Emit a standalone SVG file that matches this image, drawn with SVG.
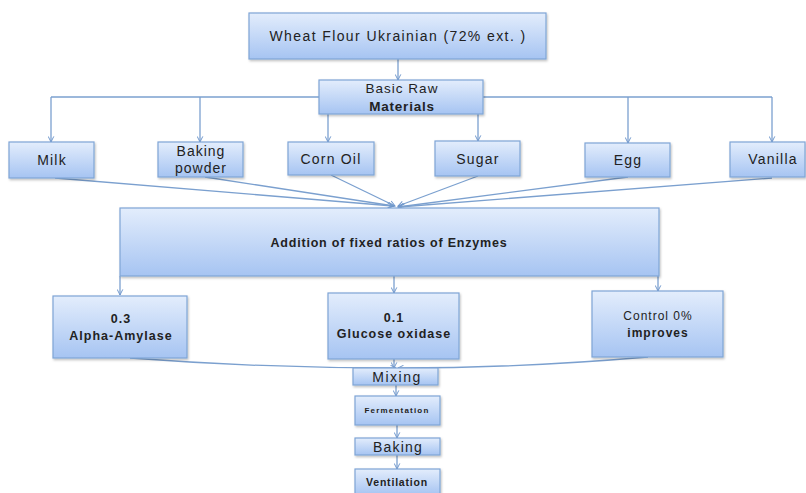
<svg xmlns="http://www.w3.org/2000/svg" width="806" height="493" viewBox="0 0 806 493">
<defs>
<linearGradient id="g" x1="0" y1="0" x2="0" y2="1">
<stop offset="0" stop-color="#e3edfc"/>
<stop offset="1" stop-color="#a6c4f2"/>
</linearGradient>
<filter id="sh" x="-10%" y="-10%" width="120%" height="130%">
<feDropShadow dx="1" dy="1.5" stdDeviation="1" flood-color="#000" flood-opacity="0.25"/>
</filter>
<marker id="ar" viewBox="0 0 10 10" refX="9" refY="5" markerWidth="7" markerHeight="7" orient="auto" markerUnits="userSpaceOnUse">
<path d="M1,1 L9,5 L1,9" fill="none" stroke="#6f97cc" stroke-width="1.4"/>
</marker>
</defs>
<style>
.b{fill:url(#g);stroke:#7fa5d6;stroke-width:1.2;filter:url(#sh)}
.t{font-family:"Liberation Sans",Arial,sans-serif;fill:#222;text-anchor:middle}
.bd{font-weight:bold}
.c{fill:none;stroke:#7ba0cf;stroke-width:1.3}
.a{marker-end:url(#ar)}
</style>
<rect width="806" height="493" fill="#fff"/>
<g id="connectors">
<path class="c a" d="M398,59 V80"/>
<path class="c" d="M51,97 H772"/>
<path class="c a" d="M51,97 V142"/>
<path class="c a" d="M200,97 V142"/>
<path class="c a" d="M328,113 V142"/>
<path class="c a" d="M478,113 V141"/>
<path class="c a" d="M628,97 V143"/>
<path class="c a" d="M772,97 V142"/>
<path class="c a" d="M55,178 L393,206"/>
<path class="c a" d="M205,177 L394,206"/>
<path class="c a" d="M331,175 L395,206"/>
<path class="c a" d="M478,176 L398,206"/>
<path class="c a" d="M628,177 L398,207"/>
<path class="c a" d="M772,178 L399,207"/>
<path class="c a" d="M120,276 V295"/>
<path class="c a" d="M394,276 V293"/>
<path class="c a" d="M658,276 V291"/>
<path class="c a" d="M130,358 Q260,368 396,368"/>
<path class="c a" d="M394,359 V368"/>
<path class="c a" d="M648,357 Q520,368 398,368"/>
<path class="c a" d="M396,385 V396"/>
<path class="c a" d="M397,425 V438"/>
<path class="c a" d="M397,455 V469"/>
</g>
<g id="wheat"><rect class="b" x="249" y="13" width="297" height="46"/><text class="t" x="398" y="41" font-size="14" letter-spacing="1.4">Wheat Flour Ukrainian  (72% ext. )</text></g>
<g id="basic"><rect class="b" x="319" y="80" width="164" height="34"/><text class="t" x="402" y="93" font-size="13.5" letter-spacing="1">Basic Raw</text><text class="t bd" x="402" y="111" font-size="13.5" letter-spacing="0.8">Materials</text></g>
<g id="milk"><rect class="b" x="9" y="142" width="85" height="36"/><text class="t" x="52" y="165" font-size="14" letter-spacing="1.2">Milk</text></g>
<g id="bakingpowder"><rect class="b" x="158" y="142" width="85" height="35"/><text class="t" x="201" y="156" font-size="14" letter-spacing="1">Baking</text><text class="t" x="201" y="173" font-size="14" letter-spacing="1">powder</text></g>
<g id="cornoil"><rect class="b" x="288" y="142" width="86" height="33"/><text class="t" x="331" y="164" font-size="14" letter-spacing="1.2">Corn Oil</text></g>
<g id="sugar"><rect class="b" x="435" y="141" width="85" height="35"/><text class="t" x="478" y="164" font-size="14" letter-spacing="1.2">Sugar</text></g>
<g id="egg"><rect class="b" x="585" y="143" width="85" height="34"/><text class="t" x="628" y="165" font-size="14" letter-spacing="1.2">Egg</text></g>
<g id="vanilla"><rect class="b" x="730" y="142" width="75" height="35"/><text class="t" x="773" y="164" font-size="14" letter-spacing="1.2">Vanilla</text></g>
<g id="addition"><rect class="b" x="120" y="208" width="539" height="68"/><text class="t bd" x="389" y="247" font-size="12.5" letter-spacing="0.8">Addition of fixed ratios of Enzymes</text></g>
<g id="alpha"><rect class="b" x="53" y="296" width="134" height="62"/><text class="t bd" x="121" y="323" font-size="12.5" letter-spacing="1">0.3</text><text class="t bd" x="121" y="340" font-size="12.5" letter-spacing="1">Alpha-Amylase</text></g>
<g id="glucose"><rect class="b" x="328" y="293" width="131" height="66"/><text class="t bd" x="394" y="322" font-size="12.5" letter-spacing="1">0.1</text><text class="t bd" x="394" y="338" font-size="12.5" letter-spacing="1">Glucose oxidase</text></g>
<g id="control"><rect class="b" x="592" y="291" width="131" height="66"/><text class="t" x="658" y="320" font-size="12" letter-spacing="1">Control 0%</text><text class="t bd" x="658" y="337" font-size="12" letter-spacing="1">improves</text></g>
<g id="mixing"><rect class="b" x="353" y="368" width="85" height="17"/><text class="t" x="397" y="382" font-size="14" letter-spacing="1.5">Mixing</text></g>
<g id="fermentation"><rect class="b" x="355" y="396" width="85" height="29"/><text class="t bd" x="397" y="413" font-size="8" letter-spacing="1.2">Fermentation</text></g>
<g id="baking"><rect class="b" x="355" y="438" width="85" height="17"/><text class="t" x="398" y="452" font-size="14" letter-spacing="1.2">Baking</text></g>
<g id="ventilation"><rect class="b" x="355" y="469" width="85" height="26"/><text class="t bd" x="397" y="486" font-size="10.5" letter-spacing="0.8">Ventilation</text></g>
</svg>
